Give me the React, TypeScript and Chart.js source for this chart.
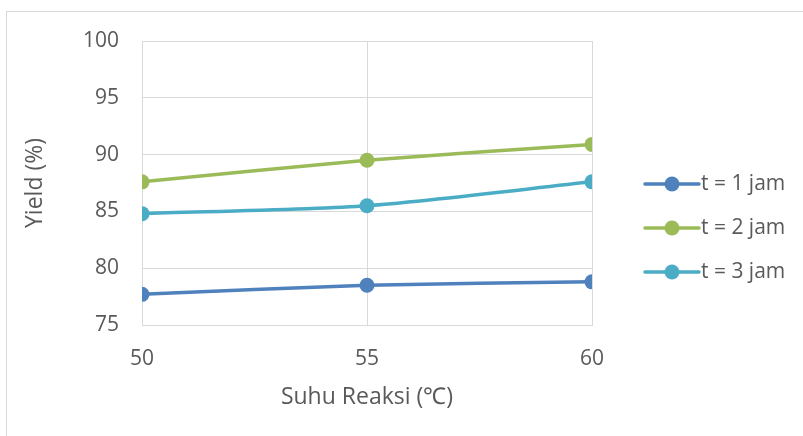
import React, { useEffect, useRef } from "react";
import { Chart, registerables } from "chart.js";

Chart.register(...registerables);

const temperatures = [50, 55, 60];
const yield1h = [77.7, 78.5, 78.8];
const yield2h = [87.6, 89.5, 90.9];
const yield3h = [84.8, 85.5, 87.6];
const seriesLabels = ["t = 1 jam", "t = 2 jam", "t = 3 jam"];
const seriesColors = ["#4F81BD", "#9BBB59", "#4BACC6"];
const yTicks = [75, 80, 85, 90, 95, 100];
const xTicks = [50, 55, 60];

const FONT = "'Open Sans', sans-serif";
const TEXT = "#595959";
const GRID = "#d9d9d9";

const frameAndLegend = {
  id: "frameAndLegend",
  beforeDraw(chart: any) {
    const ctx = chart.ctx;
    ctx.save();
    ctx.fillStyle = "#ffffff";
    ctx.fillRect(0, 0, chart.width, chart.height);
    ctx.strokeStyle = GRID;
    ctx.lineWidth = 1;
    ctx.strokeRect(6.5, 11.5, chart.width + 10, chart.height + 10);
    ctx.restore();
  },
  afterDraw(chart: any) {
    const ctx = chart.ctx;
    const area = chart.chartArea;
    ctx.save();
    const x0 = area.right + 53;
    const lineLen = 54;
    const rowGap = 44;
    const n = chart.data.datasets.length;
    const midY = (area.top + area.bottom) / 2 + 45;
    chart.data.datasets.forEach((ds: any, i: number) => {
      const y = midY + (i - (n - 1) / 2) * rowGap;
      ctx.strokeStyle = ds.borderColor;
      ctx.lineWidth = 3.5;
      ctx.lineCap = "round";
      ctx.beginPath();
      ctx.moveTo(x0, y);
      ctx.lineTo(x0 + lineLen, y);
      ctx.stroke();
      ctx.fillStyle = ds.backgroundColor;
      ctx.beginPath();
      ctx.arc(x0 + lineLen / 2, y, 7.5, 0, Math.PI * 2);
      ctx.fill();
      ctx.fillStyle = TEXT;
      ctx.font = `21px ${FONT}`;
      ctx.textAlign = "left";
      ctx.textBaseline = "middle";
      ctx.fillText(ds.label, x0 + lineLen + 2, y);
    });
    ctx.restore();
  },
};

export default function App() {
  const ref = useRef<HTMLCanvasElement | null>(null);

  useEffect(() => {
    document.body.style.margin = "0";
    const canvas = ref.current;
    if (!canvas) return;
    const series = [yield1h, yield2h, yield3h];
    const chart = new Chart(canvas, {
      type: "line",
      data: {
        datasets: series.map((vals, i) => ({
          label: seriesLabels[i],
          data: temperatures.map((t, j) => ({ x: t, y: vals[j] })),
          borderColor: seriesColors[i],
          backgroundColor: seriesColors[i],
          pointBackgroundColor: seriesColors[i],
          pointBorderColor: seriesColors[i],
          pointRadius: 7.5,
          pointBorderWidth: 0,
          borderWidth: 3.5,
          tension: 0.25,
          fill: false,
        })),
      },
      options: {
        responsive: false,
        animation: false,
        devicePixelRatio: 1,
        layout: { padding: { top: 41, right: 211, left: 0, bottom: 0 } },
        plugins: {
          legend: { display: false },
          tooltip: { enabled: false },
        },
        scales: {
          x: {
            type: "linear",
            min: 50,
            max: 60,
            afterBuildTicks: (scale: any) => {
              scale.ticks = xTicks.map((v) => ({ value: v }));
            },
            afterFit: (scale: any) => {
              scale.height = 111;
            },
            grid: { color: GRID, lineWidth: 1, drawTicks: false },
            border: { color: GRID, width: 1 },
            ticks: {
              color: TEXT,
              font: { family: FONT, size: 21 },
              padding: 21,
              maxRotation: 0,
            },
            title: {
              display: true,
              text: "Suhu Reaksi (\u2103)",
              color: TEXT,
              font: { family: FONT, size: 23 },
              padding: { top: 0, bottom: 25 },
            },
          },
          y: {
            min: 75,
            max: 100,
            afterBuildTicks: (scale: any) => {
              scale.ticks = yTicks.map((v) => ({ value: v }));
            },
            afterFit: (scale: any) => {
              scale.width = 142;
            },
            grid: { color: GRID, lineWidth: 1, drawTicks: false },
            border: { color: GRID, width: 1 },
            ticks: {
              color: TEXT,
              font: { family: FONT, size: 21 },
              padding: 23,
            },
            title: {
              display: true,
              text: "Yield (%)",
              color: TEXT,
              font: { family: FONT, size: 23 },
              padding: { top: 22, bottom: 0 },
            },
          },
        },
      },
      plugins: [frameAndLegend],
    } as any);
    return () => chart.destroy();
  }, []);

  return (
    <div style={{ width: 803, height: 436 }}>
      <canvas ref={ref} width={803} height={436} style={{ display: "block" }} />
    </div>
  );
}
